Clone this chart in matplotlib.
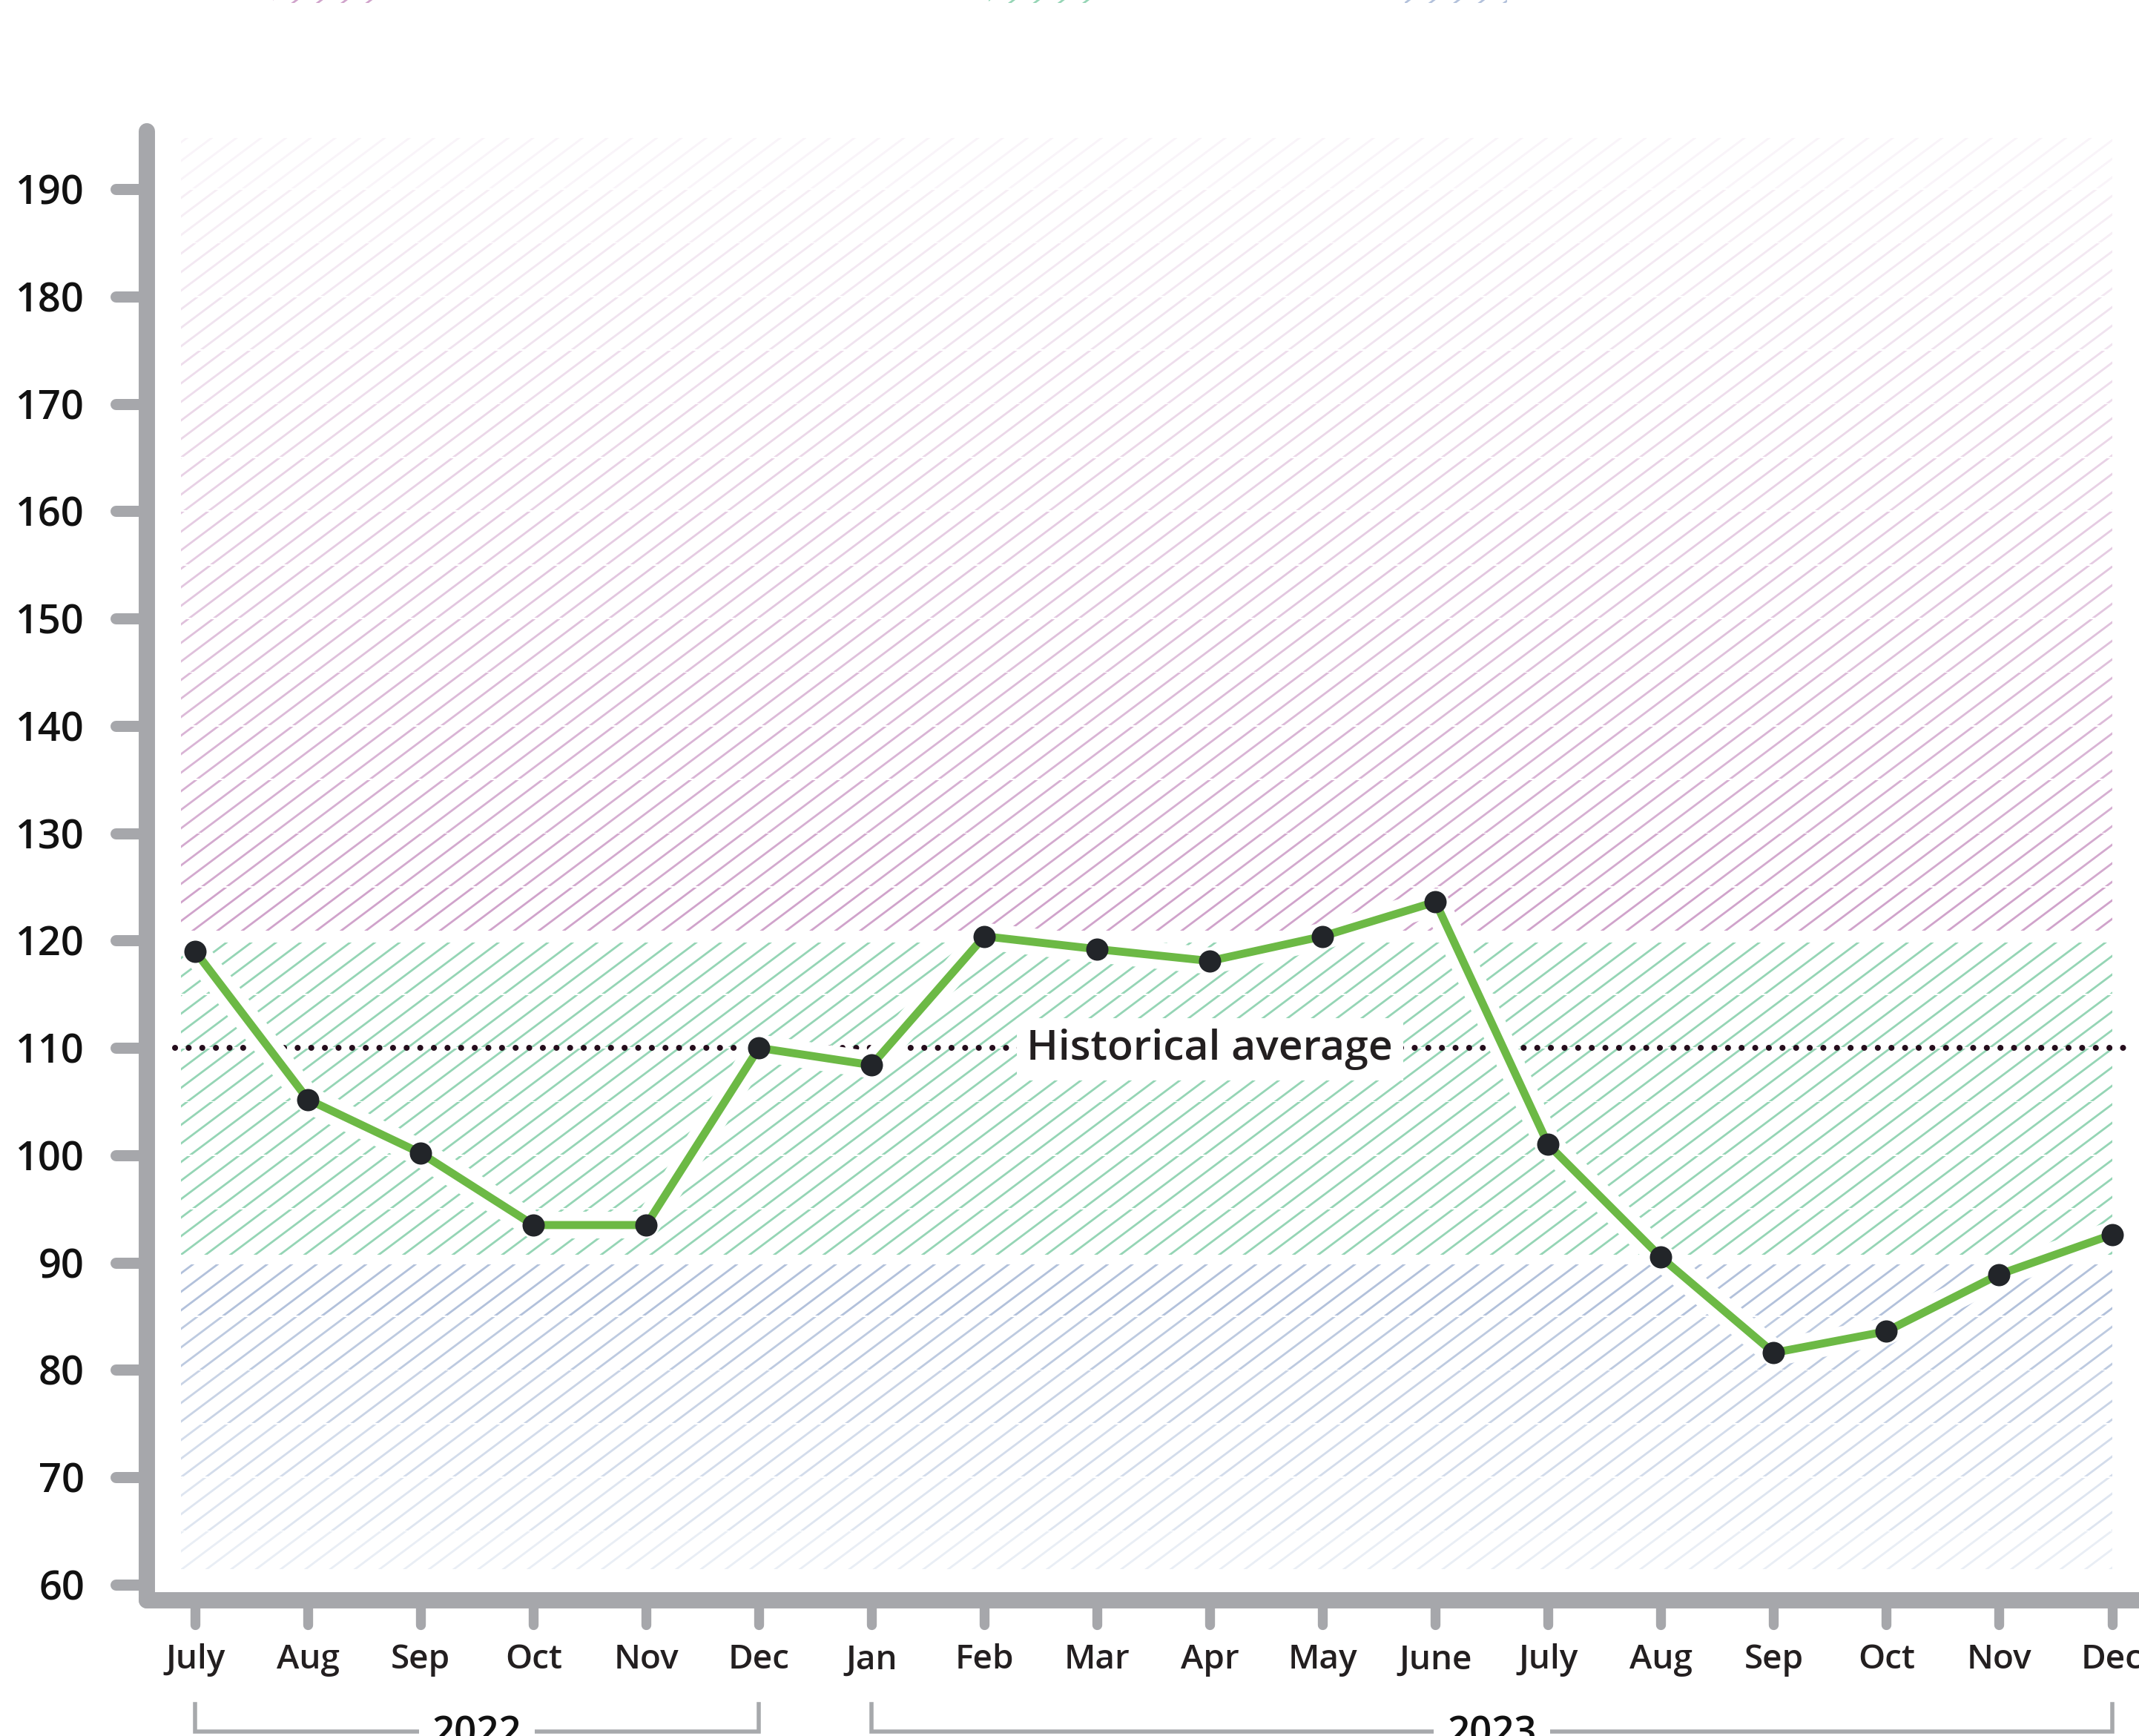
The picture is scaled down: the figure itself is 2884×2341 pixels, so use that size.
import numpy as np
import matplotlib
matplotlib.use("Agg")
import matplotlib.pyplot as plt
import matplotlib.colors as mcolors
import matplotlib.patheffects as pe
import matplotlib.transforms as mtransforms
import matplotlib.hatch as mhatch
from matplotlib.path import Path
from matplotlib.patches import Rectangle
from matplotlib.markers import MarkerStyle, TICKLEFT, TICKDOWN

plt.rcParams['font.family'] = ['Open Sans', 'DejaVu Sans']
plt.rcParams['hatch.linewidth'] = 1.0

# data
months = ["July", "Aug", "Sep", "Oct", "Nov", "Dec", "Jan", "Feb", "Mar", "Apr", "May", "June",
          "July", "Aug", "Sep", "Oct", "Nov", "Dec"]
values = [119.0, 105.2, 100.2, 93.5, 93.5, 110.0, 108.4, 120.4, 119.2, 118.1, 120.4, 123.6,
          101.0, 90.5, 81.6, 83.6, 88.9, 92.6]
years = ["2022", "2023"]
year_first = [0, 6]
year_last = [5, 17]
hist_avg = 110
yticks = [60, 70, 80, 90, 100, 110, 120, 130, 140, 150, 160, 170, 180, 190]

# shaded bands (low / normal / high)
band_low = [61.4, 89.9]
band_mid = [90.7, 119.85]
band_high = [120.85, 194.8]

grey = "#a6a7ab"
pink = "#d0a3cb"
mint = "#95d5b5"
blue = "#b2c1db"


# the reference hatch is a bit flatter and denser than matplotlib's '/'
class FlatHatch(mhatch.HatchPatternBase):
    def __init__(self, hatch, density):
        self.num_lines = 15 if hatch.count('/') else 0
        self.num_vertices = self.num_lines * 2

    def set_vertices_and_codes(self, vertices, codes):
        cs = np.linspace(-0.75, 1.0, self.num_lines)
        vertices[0::2, 0] = 0.0
        vertices[0::2, 1] = cs
        vertices[1::2, 0] = 1.0
        vertices[1::2, 1] = cs + 0.75
        codes[0::2] = Path.MOVETO
        codes[1::2] = Path.LINETO


mhatch._hatch_types[mhatch._hatch_types.index(mhatch.NorthEastHatch)] = FlatHatch


def tint(c, a):
    rgb = np.array(mcolors.to_rgb(c))
    return tuple(1 - a * (1 - rgb))


fig = plt.figure(figsize=(14.42, 11.705), dpi=200)
ax = fig.add_axes([0.0687, 0.0782, 0.9313, 0.8462])
ax.set_xlim(-0.428, 17.24)
ax.set_ylim(58.55, 195.39)

hx0, hx1 = -0.125, 17.0


def strip(lo, hi, col):
    ax.add_patch(Rectangle((hx0, lo), hx1 - hx0, hi - lo, facecolor="none",
                           edgecolor=col, linewidth=0, hatch="/", zorder=1))


# high band fades out upward
edges = [band_high[0]] + list(range(125, 195, 5)) + [band_high[1]]
n = len(edges) - 1
for i in range(n):
    a = 1.0 - 0.88 * i / (n - 1)
    strip(edges[i] + 0.06, edges[i + 1] - 0.06, tint(pink, a))

# normal band
edges = [band_mid[0], 95, 100, 105, 110, 115, band_mid[1]]
for i in range(len(edges) - 1):
    strip(edges[i] + 0.06, edges[i + 1] - 0.06, mint)

# low band fades out downward
edges = [band_low[1], 85, 80, 75, 70, 65, band_low[0]]
n = len(edges) - 1
for i in range(n):
    a = 1.0 - 0.72 * i / (n - 1)
    strip(edges[i + 1] + 0.06, edges[i] - 0.06, tint(blue, a))

# historical average
ax.plot([-0.18, 17.1], [hist_avg, hist_avg], color="#250d1c", linewidth=2.9,
        linestyle=(0, (0.01, 2.27)), dash_capstyle="round", zorder=2, clip_on=False)
ax.text(9, hist_avg - 1.1, "Historical average", ha="center", va="baseline",
        fontsize=20.5, fontweight="semibold", color="#231f20", zorder=3,
        bbox=dict(facecolor="white", edgecolor="none", pad=5))

x = np.arange(len(values))
ax.plot(x, values, color="#6cb945", linewidth=3.9, solid_joinstyle="round",
        solid_capstyle="round", zorder=4,
        path_effects=[pe.Stroke(linewidth=13, foreground="white"), pe.Normal()])
ax.plot(x, values, linestyle="none", marker="o", markersize=10.8,
        markerfacecolor="#222529", markeredgewidth=0, zorder=5, clip_on=False)

# axes styling
for s in ["top", "right"]:
    ax.spines[s].set_visible(False)
for s in ["left", "bottom"]:
    ax.spines[s].set_linewidth(7.9)
    ax.spines[s].set_color(grey)
    ax.spines[s].set_capstyle("round")

ax.set_yticks(yticks)
ax.set_xticks(x, months)
ax.tick_params(axis="y", length=15.3, width=5.4, color=grey, pad=15,
               labelsize=19.5, labelcolor="#111111")
ax.tick_params(axis="x", length=12, width=4.8, color=grey, pad=9,
               labelsize=16.5, labelcolor="#231f20")
for lab in ax.get_xticklabels() + ax.get_yticklabels():
    lab.set_fontweight("semibold")
for t in ax.yaxis.get_major_ticks():
    t.tick1line.set_marker(MarkerStyle(TICKLEFT, capstyle="round"))
for t in ax.xaxis.get_major_ticks():
    t.tick1line.set_marker(MarkerStyle(TICKDOWN, capstyle="round"))

# year brackets under the month labels
trans = mtransforms.blended_transform_factory(ax.transData, fig.transFigure)
y_top, y_bot = 0.01837, 0.00256
for name, a, b in zip(years, year_first, year_last):
    ax.plot([a, a, b, b], [y_top, y_bot, y_bot, y_top], transform=trans, color="#a7a9ac",
            linewidth=2, clip_on=False, solid_joinstyle="miter")
    ax.text((a + b) / 2, -0.0051, name, transform=trans, ha="center", va="baseline",
            fontsize=19, fontweight="semibold", color="#111111", clip_on=False,
            bbox=dict(facecolor="white", edgecolor="none", pad=6.5))

# legend swatches cut off at the top edge
for col, x0, x1 in [(pink, 368, 515), (mint, 1333, 1471), (blue, 1894, 2032)]:
    fig.add_artist(Rectangle((x0 / 2884, 1 - 4 / 2341), (x1 - x0) / 2884, 0.03,
                             transform=fig.transFigure, facecolor="none",
                             edgecolor=col, linewidth=0, hatch="/"))

fig.savefig("out.png", dpi=200)
